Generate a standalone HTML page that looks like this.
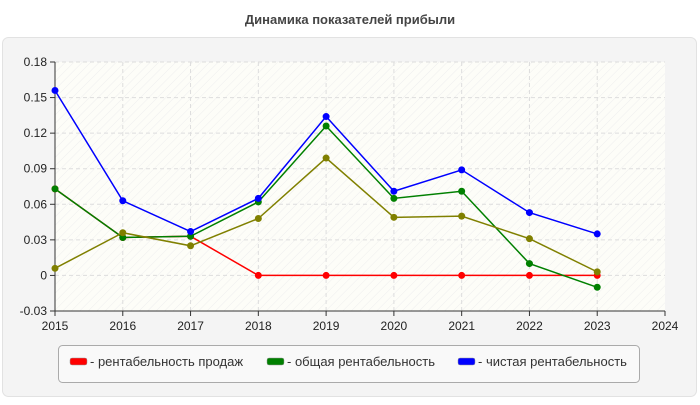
<!DOCTYPE html>
<html><head><meta charset="utf-8"><style>
body{margin:0;width:700px;height:400px;background:#fff;font-family:"Liberation Sans",sans-serif;overflow:hidden}
</style></head><body>
<svg width="700" height="400" xmlns="http://www.w3.org/2000/svg">
<defs>
<pattern id="hatch" width="6" height="6" patternUnits="userSpaceOnUse" patternTransform="rotate(45)">
<rect width="6" height="6" fill="#fdfdf8"/><line x1="0" y1="0" x2="0" y2="6" stroke="#eeeeee" stroke-width="1"/>
</pattern>
</defs>
<text x="350" y="24" text-anchor="middle" font-size="13" font-weight="bold" fill="#444">Динамика показателей прибыли</text>
<rect x="2.5" y="37.5" width="694" height="359" rx="6" fill="#f4f4f4" stroke="#e2e2e2"/>
<rect x="55" y="62" width="610" height="249" fill="url(#hatch)"/>
<g id="grid"></g>
<g id="axes"></g>
<g id="series"></g>
<g>
<rect x="58.5" y="345.5" width="581" height="37" rx="4" fill="#f9f9f9" stroke="#aaa"/>
<g><rect x="70" y="358" width="17" height="7" rx="2" fill="#f00" stroke="#999" stroke-width="0.5"/><text x="90" y="366" font-size="13" fill="#333">- рентабельность продаж</text></g>
<g><rect x="267" y="358" width="17" height="7" rx="2" fill="#008000" stroke="#999" stroke-width="0.5"/><text x="287" y="366" font-size="13" fill="#333">- общая рентабельность</text></g>
<g><rect x="458" y="358" width="17" height="7" rx="2" fill="#00f" stroke="#999" stroke-width="0.5"/><text x="478" y="366" font-size="13" fill="#333">- чистая рентабельность</text></g>
</g>
</svg>
<script>
const years=[2015,2016,2017,2018,2019,2020,2021,2022,2023];
const xTicks=[2015,2016,2017,2018,2019,2020,2021,2022,2023,2024];
const yTicks=[-0.03,0,0.03,0.06,0.09,0.12,0.15,0.18];
const yTickLabels=["-0.03","0","0.03","0.06","0.09","0.12","0.15","0.18"];
const salesVals=[0.073,0.032,0.033,0,0,0,0,0,0];
const totalVals=[0.073,0.032,0.033,0.062,0.126,0.065,0.071,0.010,-0.010];
const netVals=[0.156,0.063,0.037,0.065,0.134,0.071,0.089,0.053,0.035];
const otherVals=[0.006,0.036,0.025,0.048,0.099,0.049,0.050,0.031,0.003];
const NS="http://www.w3.org/2000/svg";
const X0=55,X1=665,Y0=311,Y1=62;
function xs(v){return X0+(v-2015)/(2024-2015)*(X1-X0);}
function ys(v){return Y0-(v+0.03)/(0.21)*(Y0-Y1);}
function mk(tag,attrs,parent){const e=document.createElementNS(NS,tag);for(const k in attrs)e.setAttribute(k,attrs[k]);parent.appendChild(e);return e;}
const grid=document.getElementById('grid'),axes=document.getElementById('axes'),series=document.getElementById('series');
yTicks.forEach((t,i)=>{const y=ys(t);
 if(i>0){const g=mk('line',{x1:X0,x2:X1,y1:y,y2:y,stroke:'#ddd','stroke-dasharray':'4,3'},grid);
 
 }
 mk('line',{x1:X0-5,x2:X0,y1:y,y2:y,stroke:'#333'},axes);
 const tx=mk('text',{x:X0-8,y:y+4,'text-anchor':'end','font-size':'12',fill:'#222'},axes);tx.textContent=yTickLabels[i];
 
 
});
xTicks.forEach((t,i)=>{const x=xs(t);
 if(i>0&&i<xTicks.length-1){const g=mk('line',{x1:x,x2:x,y1:Y1,y2:Y0,stroke:'#ddd','stroke-dasharray':'4,3'},grid);
 
 }
 mk('line',{x1:x,x2:x,y1:Y0,y2:Y0+5,stroke:'#333'},axes);
 const tx=mk('text',{x:x,y:Y0+19,'text-anchor':'middle','font-size':'12',fill:'#222'},axes);tx.textContent=t;
 
 
});
const ya=mk('line',{x1:X0,x2:X0,y1:Y1,y2:Y0,stroke:'#333'},axes);


const xa=mk('line',{x1:X0,x2:X1,y1:Y0,y2:Y0,stroke:'#333'},axes);


function draw(vals,color,name,w){
 const g=mk('g',{},series);
 
 
 mk('polyline',{points:vals.map((v,i)=>xs(years[i])+','+ys(v)).join(' '),fill:'none',stroke:color,'stroke-width':w},g);
 vals.forEach((v,i)=>{const c=mk('circle',{cx:xs(years[i]),cy:ys(v),r:3.5,fill:color},g);
  
  });
}
draw(salesVals,'#ff0000','series-sales-profitability','1.5');
draw(totalVals,'#008000','series-total-profitability','1.5');
draw(otherVals,'#808000','series-other','1.5');
draw(netVals,'#0000ff','series-net-profitability','1.5');
</script>
</body></html>
